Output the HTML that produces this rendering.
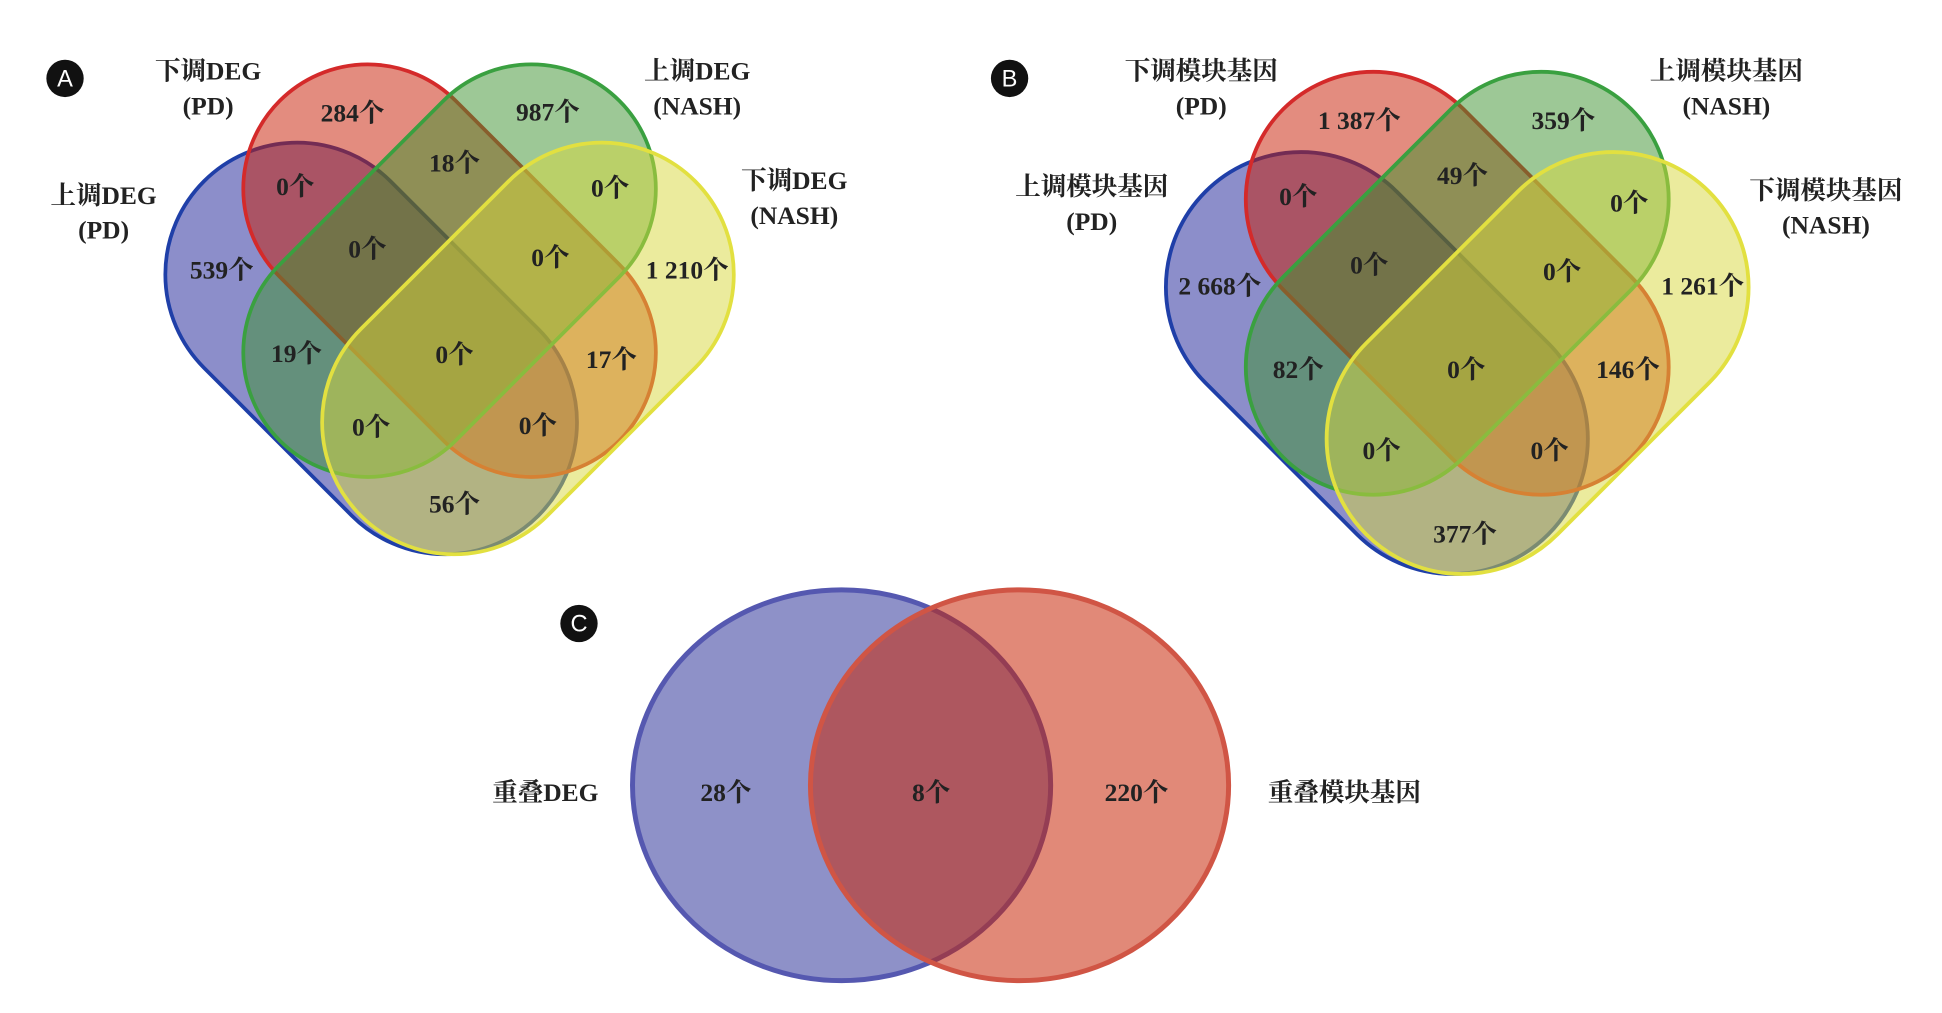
<!DOCTYPE html>
<html><head><meta charset="utf-8"><style>
html,body{margin:0;padding:0;background:#fff;}
svg{display:block;}
text{font-family:"Liberation Serif","Noto Serif CJK SC",serif;font-weight:bold;font-size:20.5px;fill:#222;text-anchor:middle;dominant-baseline:central;}
.b{font-family:"Liberation Sans",sans-serif;fill:#fff;font-size:19px;font-weight:normal;}
</style></head><body>
<svg width="1942" height="1013" viewBox="0 0 1560 814" xmlns="http://www.w3.org/2000/svg">
<defs>
<g id="venn">
<rect x="108" y="174" width="380" height="212" rx="106" transform="rotate(45 298 280)" fill="rgb(25,30,150)" fill-opacity="0.5" stroke="#1f3fa8" stroke-width="3"/>
<rect x="168" y="117.5" width="386" height="200" rx="100" transform="rotate(45 361 217.5)" fill="rgb(200,25,0)" fill-opacity="0.5" stroke="#d42a2a" stroke-width="3"/>
<rect x="168" y="117.5" width="386" height="200" rx="100" transform="rotate(-45 361 217.5)" fill="rgb(60,145,45)" fill-opacity="0.5" stroke="#3aa040" stroke-width="3"/>
<rect x="234" y="174" width="380" height="212" rx="106" transform="rotate(-45 424 280)" fill="rgb(215,215,60)" fill-opacity="0.5" stroke="#e2e040" stroke-width="3"/>
</g>
</defs>
<use href="#venn"/>
<circle cx="52" cy="63" r="15" fill="#111"/><text class="b" x="52" y="64">A</text>
<text x="167" y="57">下调DEG</text><text x="167" y="85">(PD)</text>
<text x="560" y="57">上调DEG</text><text x="560" y="85">(NASH)</text>
<text x="83" y="157">上调DEG</text><text x="83" y="185">(PD)</text>
<text x="638" y="145">下调DEG</text><text x="638" y="173">(NASH)</text>
<text x="283" y="91">284个</text><text x="440" y="90">987个</text>
<text x="237" y="150">0个</text><text x="365" y="131">18个</text><text x="490" y="151">0个</text>
<text x="178" y="217">539个</text><text x="295" y="200">0个</text><text x="442" y="207">0个</text><text x="552" y="217">1 210个</text>
<text x="238" y="284">19个</text><text x="365" y="285">0个</text><text x="491" y="289">17个</text>
<text x="298" y="343">0个</text><text x="432" y="342">0个</text><text x="365" y="405">56个</text>

<g transform="translate(936 58) scale(1.025) translate(-132 -52)"><use href="#venn"/></g>
<circle cx="811" cy="63" r="15" fill="#111"/><text class="b" x="811" y="64">B</text>
<text x="965" y="57">下调模块基因</text><text x="965" y="85">(PD)</text>
<text x="1387" y="57">上调模块基因</text><text x="1387" y="85">(NASH)</text>
<text x="877" y="150">上调模块基因</text><text x="877" y="178">(PD)</text>
<text x="1467" y="153">下调模块基因</text><text x="1467" y="181">(NASH)</text>
<text x="1092" y="97">1 387个</text><text x="1256" y="97">359个</text>
<text x="1043" y="158">0个</text><text x="1175" y="141">49个</text><text x="1309" y="163">0个</text>
<text x="980" y="230">2 668个</text><text x="1100" y="213">0个</text><text x="1255" y="218">0个</text><text x="1368" y="230">1 261个</text>
<text x="1043" y="297">82个</text><text x="1178" y="297">0个</text><text x="1308" y="297">146个</text>
<text x="1110" y="362">0个</text><text x="1245" y="362">0个</text><text x="1177" y="429">377个</text>

<ellipse cx="676" cy="631" rx="168" ry="157" fill="rgb(30,35,145)" fill-opacity="0.5" stroke="#5558b0" stroke-width="4"/>
<ellipse cx="819" cy="631" rx="168" ry="157" fill="rgb(200,40,10)" fill-opacity="0.55" stroke="#d05545" stroke-width="4"/>
<circle cx="465" cy="501" r="15" fill="#111"/><text class="b" x="465" y="502">C</text>
<text x="438" y="637">重叠DEG</text>
<text x="583" y="637">28个</text><text x="748" y="637">8个</text><text x="913" y="637">220个</text>
<text x="1080" y="637">重叠模块基因</text>
</svg>
</body></html>
